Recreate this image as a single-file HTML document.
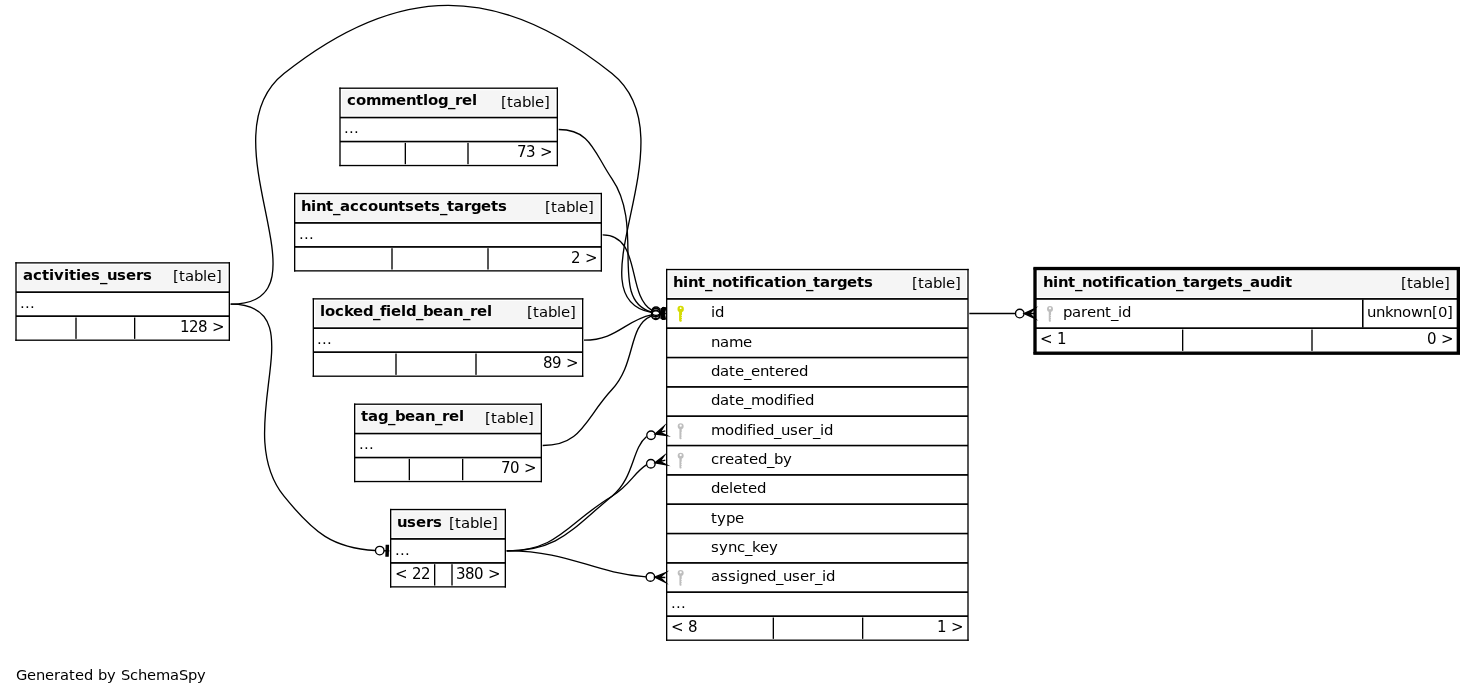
<!DOCTYPE html>
<html lang="en">
<head>
<meta charset="utf-8">
<title>hint_notification_targets_audit - Relationships</title>
<style>
html,body{margin:0;padding:0;background:#fff;}
body{width:1476px;height:695px;overflow:hidden;}
svg{display:block;}
svg text{font-family:'DejaVu Sans','Liberation Sans',sans-serif;font-size:14.9px;fill:#000;white-space:pre;}
svg text.n{font-size:15px;}
svg text.g{font-size:14.667px;}
</style>
</head>
<body>
<svg width="1476" height="695" viewBox="0 0 1476 695" style="will-change:transform">
<rect x="0" y="0" width="1476" height="695" fill="#ffffff"/>
<g fill="#000">
<rect x="16" y="262.867" width="213.333" height="77.333" fill="#fff"/>
<rect x="18" y="264.867" width="209.333" height="25.333" fill="#f5f5f5"/>
<text x="23 33 42 49 54 64 69 76 81 91 100 107 117 126 136 143" y="280 280 280 280 280 280 280 280 280 280 281 280 280 280 280 280" font-weight="bold">activities_users</text>
<text x="173 179 185 194 203 207 216" y="281">[table]</text>
<rect x="16" y="291" width="213.333" height="1" fill-opacity="0.716"/>
<rect x="16" y="292" width="213.333" height="1" fill-opacity="0.982"/>
<text x="20 25 30" y="308">...</text>
<rect x="16" y="315" width="213.333" height="1" fill-opacity="0.716"/>
<rect x="16" y="316" width="213.333" height="1" fill-opacity="0.982"/>
<rect x="75" y="317.533" width="1" height="21.334" fill-opacity="0.667"/>
<rect x="76" y="317.533" width="1" height="21.334" fill-opacity="0.667"/>
<rect x="134" y="317.533" width="1" height="21.334"/>
<rect x="135" y="317.533" width="1" height="21.334" fill-opacity="0.334"/>
<text x="180 189 198 207 212" y="332" class="n">128 &gt;</text>
<rect x="15.333" y="262" width="214.667" height="1" fill-opacity="0.800"/>
<rect x="15.333" y="263" width="214.667" height="1" fill-opacity="0.534"/>
<rect x="15.333" y="339" width="214.667" height="1" fill-opacity="0.467"/>
<rect x="15.333" y="340" width="214.667" height="1" fill-opacity="0.867"/>
<rect x="15" y="262.2" width="1" height="78.667" fill-opacity="0.667"/>
<rect x="16" y="262.2" width="1" height="78.667" fill-opacity="0.667"/>
<rect x="228" y="262.2" width="1" height="78.667" fill-opacity="0.334"/>
<rect x="229" y="262.2" width="1" height="78.667"/>
</g>
<g fill="#000">
<rect x="340" y="88.2" width="217.333" height="77.333" fill="#fff"/>
<rect x="342" y="90.2" width="213.333" height="25.333" fill="#f5f5f5"/>
<text x="347 356 366 381 396 406 416 423 428 438 448 455 462 472" y="105 105 105 105 105 105 105 105 105 105 106 105 105 105" font-weight="bold">commentlog_rel</text>
<text x="501 507 513 522 531 535 544" y="107">[table]</text>
<rect x="340" y="116" width="217.333" height="1" fill-opacity="0.249"/>
<rect x="340" y="117" width="217.333" height="1"/>
<rect x="340" y="118" width="217.333" height="1" fill-opacity="0.359"/>
<text x="344 349 354" y="133">...</text>
<rect x="340" y="140" width="217.333" height="1" fill-opacity="0.249"/>
<rect x="340" y="141" width="217.333" height="1"/>
<rect x="340" y="142" width="217.333" height="1" fill-opacity="0.359"/>
<rect x="404" y="142.867" width="1" height="21.333" fill-opacity="0.334"/>
<rect x="405" y="142.867" width="1" height="21.333"/>
<rect x="467" y="142.867" width="1" height="21.333" fill-opacity="0.667"/>
<rect x="468" y="142.867" width="1" height="21.333" fill-opacity="0.667"/>
<text x="517 526 535 540" y="157" class="n">73 &gt;</text>
<rect x="339.333" y="87" width="218.667" height="1" fill-opacity="0.467"/>
<rect x="339.333" y="88" width="218.667" height="1" fill-opacity="0.867"/>
<rect x="339.333" y="164" width="218.667" height="1" fill-opacity="0.134"/>
<rect x="339.333" y="165" width="218.667" height="1"/>
<rect x="339.333" y="166" width="218.667" height="1" fill-opacity="0.200"/>
<rect x="339" y="87.533" width="1" height="78.667" fill-opacity="0.667"/>
<rect x="340" y="87.533" width="1" height="78.667" fill-opacity="0.667"/>
<rect x="556" y="87.533" width="1" height="78.667" fill-opacity="0.334"/>
<rect x="557" y="87.533" width="1" height="78.667"/>
</g>
<g fill="#000">
<rect x="294.667" y="193.533" width="306.667" height="77.333" fill="#fff"/>
<rect x="296.667" y="195.533" width="302.667" height="25.333" fill="#f5f5f5"/>
<text x="301 311 316 326 333 340 350 359 368 378 388 398 405 414 424 431 440 447 454 464 471 481 491 498" y="211 211 211 211 212 211 211 211 211 211 211 211 211 211 211 211 212 211 211 211 211 211 211 211" font-weight="bold">hint_accountsets_targets</text>
<text x="545 551 557 566 575 579 588" y="212">[table]</text>
<rect x="294.667" y="222" width="306.666" height="1" fill-opacity="0.960"/>
<rect x="294.667" y="223" width="306.666" height="1" fill-opacity="0.783"/>
<text x="299 304 309" y="239">...</text>
<rect x="294.667" y="246" width="306.666" height="1" fill-opacity="0.960"/>
<rect x="294.667" y="247" width="306.666" height="1" fill-opacity="0.783"/>
<rect x="391" y="248.2" width="1" height="21.333" fill-opacity="0.667"/>
<rect x="392" y="248.2" width="1" height="21.333" fill-opacity="0.667"/>
<rect x="487" y="248.2" width="1" height="21.333" fill-opacity="0.667"/>
<rect x="488" y="248.2" width="1" height="21.333" fill-opacity="0.667"/>
<text x="571 580 585" y="263" class="n">2 &gt;</text>
<rect x="294" y="192" width="308" height="1" fill-opacity="0.134"/>
<rect x="294" y="193" width="308" height="1"/>
<rect x="294" y="194" width="308" height="1" fill-opacity="0.200"/>
<rect x="294" y="270" width="308" height="1" fill-opacity="0.800"/>
<rect x="294" y="271" width="308" height="1" fill-opacity="0.534"/>
<rect x="294" y="192.867" width="1" height="78.666"/>
<rect x="295" y="192.867" width="1" height="78.666" fill-opacity="0.334"/>
<rect x="600" y="192.867" width="1" height="78.666" fill-opacity="0.334"/>
<rect x="601" y="192.867" width="1" height="78.666"/>
</g>
<g fill="#000">
<rect x="313.333" y="298.867" width="269.333" height="77.333" fill="#fff"/>
<rect x="315.333" y="300.867" width="265.333" height="25.333" fill="#f5f5f5"/>
<text x="320 325 335 344 353 363 373 380 386 391 401 406 416 423 433 443 453 463 470 477 487" y="316 316 316 316 316 316 317 316 316 316 316 316 317 316 316 316 316 317 316 316 316" font-weight="bold">locked_field_bean_rel</text>
<text x="527 533 539 548 557 561 570" y="317">[table]</text>
<rect x="313.333" y="327" width="269.334" height="1" fill-opacity="0.716"/>
<rect x="313.333" y="328" width="269.334" height="1" fill-opacity="0.982"/>
<text x="317 322 327" y="344">...</text>
<rect x="313.333" y="351" width="269.334" height="1" fill-opacity="0.716"/>
<rect x="313.333" y="352" width="269.334" height="1" fill-opacity="0.982"/>
<rect x="395" y="353.533" width="1" height="21.334" fill-opacity="0.667"/>
<rect x="396" y="353.533" width="1" height="21.334" fill-opacity="0.667"/>
<rect x="475" y="353.533" width="1" height="21.334" fill-opacity="0.667"/>
<rect x="476" y="353.533" width="1" height="21.334" fill-opacity="0.667"/>
<text x="543 552 561 566" y="368" class="n">89 &gt;</text>
<rect x="312.667" y="298" width="270.666" height="1" fill-opacity="0.800"/>
<rect x="312.667" y="299" width="270.666" height="1" fill-opacity="0.534"/>
<rect x="312.667" y="375" width="270.666" height="1" fill-opacity="0.467"/>
<rect x="312.667" y="376" width="270.666" height="1" fill-opacity="0.867"/>
<rect x="312" y="298.2" width="1" height="78.667" fill-opacity="0.334"/>
<rect x="313" y="298.2" width="1" height="78.667"/>
<rect x="582" y="298.2" width="1" height="78.667"/>
<rect x="583" y="298.2" width="1" height="78.667" fill-opacity="0.334"/>
</g>
<g fill="#000">
<rect x="354.667" y="404.2" width="186.667" height="77.333" fill="#fff"/>
<rect x="356.667" y="406.2" width="182.667" height="25.333" fill="#f5f5f5"/>
<text x="361 368 378 388 395 405 415 425 435 442 449 459" y="421 421 421 422 421 421 421 421 422 421 421 421" font-weight="bold">tag_bean_rel</text>
<text x="485 491 497 506 515 519 528" y="423">[table]</text>
<rect x="354.667" y="432" width="186.666" height="1" fill-opacity="0.249"/>
<rect x="354.667" y="433" width="186.666" height="1"/>
<rect x="354.667" y="434" width="186.666" height="1" fill-opacity="0.359"/>
<text x="359 364 369" y="449">...</text>
<rect x="354.667" y="456" width="186.666" height="1" fill-opacity="0.249"/>
<rect x="354.667" y="457" width="186.666" height="1"/>
<rect x="354.667" y="458" width="186.666" height="1" fill-opacity="0.359"/>
<rect x="408" y="458.867" width="1" height="21.333" fill-opacity="0.334"/>
<rect x="409" y="458.867" width="1" height="21.333"/>
<rect x="462" y="458.867" width="1" height="21.333"/>
<rect x="463" y="458.867" width="1" height="21.333" fill-opacity="0.334"/>
<text x="501 510 519 524" y="473" class="n">70 &gt;</text>
<rect x="354" y="403" width="188" height="1" fill-opacity="0.467"/>
<rect x="354" y="404" width="188" height="1" fill-opacity="0.867"/>
<rect x="354" y="480" width="188" height="1" fill-opacity="0.134"/>
<rect x="354" y="481" width="188" height="1"/>
<rect x="354" y="482" width="188" height="1" fill-opacity="0.200"/>
<rect x="354" y="403.533" width="1" height="78.667"/>
<rect x="355" y="403.533" width="1" height="78.667" fill-opacity="0.334"/>
<rect x="540" y="403.533" width="1" height="78.667" fill-opacity="0.334"/>
<rect x="541" y="403.533" width="1" height="78.667"/>
</g>
<g fill="#000">
<rect x="390.667" y="509.533" width="114.667" height="77.333" fill="#fff"/>
<rect x="392.667" y="511.533" width="110.667" height="25.333" fill="#f5f5f5"/>
<text x="397 407 416 426 433" y="527" font-weight="bold">users</text>
<text x="449 455 461 470 479 483 492" y="528">[table]</text>
<rect x="390.667" y="538" width="114.666" height="1" fill-opacity="0.960"/>
<rect x="390.667" y="539" width="114.666" height="1" fill-opacity="0.783"/>
<text x="395 400 405" y="555">...</text>
<rect x="390.667" y="562" width="114.666" height="1" fill-opacity="0.960"/>
<rect x="390.667" y="563" width="114.666" height="1" fill-opacity="0.783"/>
<rect x="434" y="564.2" width="1" height="21.333"/>
<rect x="435" y="564.2" width="1" height="21.333" fill-opacity="0.334"/>
<rect x="451" y="564.2" width="1" height="21.333" fill-opacity="0.667"/>
<rect x="452" y="564.2" width="1" height="21.333" fill-opacity="0.667"/>
<text x="395 407 412 421" y="579" class="n">&lt; 22</text>
<text x="456 465 474 483 488" y="579" class="n">380 &gt;</text>
<rect x="390" y="508" width="116" height="1" fill-opacity="0.134"/>
<rect x="390" y="509" width="116" height="1"/>
<rect x="390" y="510" width="116" height="1" fill-opacity="0.200"/>
<rect x="390" y="586" width="116" height="1" fill-opacity="0.800"/>
<rect x="390" y="587" width="116" height="1" fill-opacity="0.534"/>
<rect x="390" y="508.867" width="1" height="78.666"/>
<rect x="391" y="508.867" width="1" height="78.666" fill-opacity="0.334"/>
<rect x="504" y="508.867" width="1" height="78.666" fill-opacity="0.334"/>
<rect x="505" y="508.867" width="1" height="78.666"/>
</g>
<g fill="#000">
<rect x="666.667" y="269.533" width="301.333" height="370.667" fill="#fff"/>
<rect x="668.667" y="271.533" width="297.333" height="25.333" fill="#f5f5f5"/>
<text x="673 683 688 698 705 712 722 732 739 744 750 755 764 774 781 786 796 806 813 820 830 837 847 857 864" y="287 287 287 287 288 287 287 287 287 287 287 287 287 287 287 287 287 288 287 287 287 287 287 287 287" font-weight="bold">hint_notification_targets</text>
<text x="912 918 924 933 942 946 955" y="288">[table]</text>
<rect x="666.667" y="298" width="301.333" height="1" fill-opacity="0.960"/>
<rect x="666.667" y="299" width="301.333" height="1" fill-opacity="0.783"/>
<g transform="translate(680.667 308.967)" fill="#d5dc05"><path fill-rule="evenodd" d="M0-3.2A3.2 3.2 0 1 1 0 3.2A3.2 3.2 0 1 1 0-3.2ZM0-1.65A.9 .9 0 1 0 0 .15A.9 .9 0 1 0 0-1.65Z"/><path d="M-1.6 2.4V11.3Q-1.5 12.7-.5 12.7H.4Q1.2 12.7 1.2 11.9V11.4L.7 11V10.4L1.35 10V9.3L.7 8.9V8.3L1.35 7.9V7.2L.7 6.8V6.2L1.35 5.8V2.4Z"/></g>
<text x="711 715" y="317">id</text>
<rect x="666.667" y="327" width="301.333" height="1" fill-opacity="0.716"/>
<rect x="666.667" y="328" width="301.333" height="1" fill-opacity="0.982"/>
<text x="711 720 729 743" y="347">name</text>
<rect x="666.667" y="356" width="301.333" height="1" fill-opacity="0.249"/>
<rect x="666.667" y="357" width="301.333" height="1"/>
<rect x="666.667" y="358" width="301.333" height="1" fill-opacity="0.359"/>
<text x="711 720 729 735 744 751 760 769 775 784 790 799" y="376 376 376 376 377 376 376 376 376 376 376 376">date_entered</text>
<rect x="666.667" y="386" width="301.333" height="1" fill-opacity="0.960"/>
<rect x="666.667" y="387" width="301.333" height="1" fill-opacity="0.783"/>
<text x="711 720 729 735 744 751 765 774 783 787 792 796 805" y="405 405 405 405 406 405 405 405 405 405 405 405 405">date_modified</text>
<rect x="666.667" y="415" width="301.333" height="1" fill-opacity="0.716"/>
<rect x="666.667" y="416" width="301.333" height="1" fill-opacity="0.982"/>
<g transform="translate(680.667 426.3)" fill="#bebebe"><path fill-rule="evenodd" d="M0-3A3 3 0 1 1 0 3A3 3 0 1 1 0-3ZM0-1.75A1.15 1.15 0 1 0 0 .55A1.15 1.15 0 1 0 0-1.75Z"/><path d="M-1.25 2.3V11.6Q-1.2 12.9-.3 12.9H.2Q.9 12.9 .9 12.1V11.5L.5 11.1V10.5L1.05 10.1V9.4L.5 9V8.4L1.05 8V7.3L.5 6.9V6.3L1.05 5.9V2.3Z"/></g>
<text x="711 725 734 743 747 752 756 765 774 781 790 798 807 813 820 824" y="435 435 435 435 435 435 435 435 436 435 435 435 435 436 435 435">modified_user_id</text>
<rect x="666.667" y="444" width="301.333" height="1" fill-opacity="0.249"/>
<rect x="666.667" y="445" width="301.333" height="1"/>
<rect x="666.667" y="446" width="301.333" height="1" fill-opacity="0.359"/>
<g transform="translate(680.667 455.633)" fill="#bebebe"><path fill-rule="evenodd" d="M0-3A3 3 0 1 1 0 3A3 3 0 1 1 0-3ZM0-1.75A1.15 1.15 0 1 0 0 .55A1.15 1.15 0 1 0 0-1.75Z"/><path d="M-1.25 2.3V11.6Q-1.2 12.9-.3 12.9H.2Q.9 12.9 .9 12.1V11.5L.5 11.1V10.5L1.05 10.1V9.4L.5 9V8.4L1.05 8V7.3L.5 6.9V6.3L1.05 5.9V2.3Z"/></g>
<text x="711 719 725 734 743 749 758 767 774 783" y="464 464 464 464 464 464 464 465 464 464">created_by</text>
<rect x="666.667" y="474" width="301.333" height="1" fill-opacity="0.960"/>
<rect x="666.667" y="475" width="301.333" height="1" fill-opacity="0.783"/>
<text x="711 720 729 733 742 748 757" y="493">deleted</text>
<rect x="666.667" y="503" width="301.333" height="1" fill-opacity="0.716"/>
<rect x="666.667" y="504" width="301.333" height="1" fill-opacity="0.982"/>
<text x="711 717 726 735" y="523">type</text>
<rect x="666.667" y="532" width="301.333" height="1" fill-opacity="0.249"/>
<rect x="666.667" y="533" width="301.333" height="1"/>
<rect x="666.667" y="534" width="301.333" height="1" fill-opacity="0.359"/>
<text x="711 719 728 737 745 752 760 769" y="552 552 552 552 553 552 552 552">sync_key</text>
<rect x="666.667" y="562" width="301.333" height="1" fill-opacity="0.960"/>
<rect x="666.667" y="563" width="301.333" height="1" fill-opacity="0.783"/>
<g transform="translate(680.667 572.967)" fill="#bebebe"><path fill-rule="evenodd" d="M0-3A3 3 0 1 1 0 3A3 3 0 1 1 0-3ZM0-1.75A1.15 1.15 0 1 0 0 .55A1.15 1.15 0 1 0 0-1.75Z"/><path d="M-1.25 2.3V11.6Q-1.2 12.9-.3 12.9H.2Q.9 12.9 .9 12.1V11.5L.5 11.1V10.5L1.05 10.1V9.4L.5 9V8.4L1.05 8V7.3L.5 6.9V6.3L1.05 5.9V2.3Z"/></g>
<text x="711 720 728 736 740 749 758 767 776 783 792 800 809 815 822 826" y="581 581 581 581 581 581 581 581 582 581 581 581 581 582 581 581">assigned_user_id</text>
<rect x="666.667" y="591" width="301.333" height="1" fill-opacity="0.716"/>
<rect x="666.667" y="592" width="301.333" height="1" fill-opacity="0.982"/>
<text x="671 676 681" y="608">...</text>
<rect x="666.667" y="615" width="301.333" height="1" fill-opacity="0.716"/>
<rect x="666.667" y="616" width="301.333" height="1" fill-opacity="0.982"/>
<rect x="772" y="617.533" width="1" height="21.334" fill-opacity="0.334"/>
<rect x="773" y="617.533" width="1" height="21.334"/>
<rect x="862" y="617.533" width="1" height="21.334"/>
<rect x="863" y="617.533" width="1" height="21.334" fill-opacity="0.334"/>
<text x="671 683 688" y="632" class="n">&lt; 8</text>
<text x="937 946 951" y="632" class="n">1 &gt;</text>
<rect x="666" y="268" width="302.667" height="1" fill-opacity="0.134"/>
<rect x="666" y="269" width="302.667" height="1"/>
<rect x="666" y="270" width="302.667" height="1" fill-opacity="0.200"/>
<rect x="666" y="639" width="302.667" height="1" fill-opacity="0.467"/>
<rect x="666" y="640" width="302.667" height="1" fill-opacity="0.867"/>
<rect x="666" y="268.867" width="1" height="372"/>
<rect x="667" y="268.867" width="1" height="372" fill-opacity="0.334"/>
<rect x="967" y="268.867" width="1" height="372" fill-opacity="0.667"/>
<rect x="968" y="268.867" width="1" height="372" fill-opacity="0.667"/>
</g>
<g fill="#000">
<rect x="1033.333" y="266.867" width="426.667" height="88" fill="#fff"/>
<rect x="1038" y="270.733" width="417.333" height="26.133" fill="#f5f5f5"/>
<text x="1043 1053 1058 1068 1075 1082 1092 1102 1109 1114 1120 1125 1134 1144 1151 1156 1166 1176 1183 1190 1200 1207 1217 1227 1234 1243 1250 1260 1270 1280 1285" y="287 287 287 287 288 287 287 287 287 287 287 287 287 287 287 287 287 288 287 287 287 287 287 287 287 288 287 287 287 287 287" font-weight="bold">hint_notification_targets_audit</text>
<text x="1401 1407 1413 1422 1431 1435 1444" y="288">[table]</text>
<rect x="1036" y="298" width="421.333" height="1" fill-opacity="0.960"/>
<rect x="1036" y="299" width="421.333" height="1" fill-opacity="0.783"/>
<g transform="translate(1050 308.967)" fill="#bebebe"><path fill-rule="evenodd" d="M0-3A3 3 0 1 1 0 3A3 3 0 1 1 0-3ZM0-1.75A1.15 1.15 0 1 0 0 .55A1.15 1.15 0 1 0 0-1.75Z"/><path d="M-1.25 2.3V11.6Q-1.2 12.9-.3 12.9H.2Q.9 12.9 .9 12.1V11.5L.5 11.1V10.5L1.05 10.1V9.4L.5 9V8.4L1.05 8V7.3L.5 6.9V6.3L1.05 5.9V2.3Z"/></g>
<text x="1063 1072 1081 1087 1096 1105 1111 1118 1122" y="317 317 317 317 317 317 318 317 317">parent_id</text>
<rect x="1362" y="299.533" width="1" height="28"/>
<rect x="1363" y="299.533" width="1" height="28" fill-opacity="0.556"/>
<text x="1367 1376 1385 1393 1402 1411 1423 1432 1438 1447" y="317">unknown[0]</text>
<rect x="1036" y="327" width="421.333" height="1" fill-opacity="0.716"/>
<rect x="1036" y="328" width="421.333" height="1" fill-opacity="0.982"/>
<rect x="1182" y="329.533" width="1" height="21.334"/>
<rect x="1183" y="329.533" width="1" height="21.334" fill-opacity="0.334"/>
<rect x="1311" y="329.533" width="1" height="21.334" fill-opacity="0.667"/>
<rect x="1312" y="329.533" width="1" height="21.334" fill-opacity="0.667"/>
<text x="1040 1052 1057" y="344" class="n">&lt; 1</text>
<text x="1427 1436 1441" y="344" class="n">0 &gt;</text>
<rect x="1035.333" y="268" width="422.667" height="1" fill-opacity="0.134"/>
<rect x="1035.333" y="269" width="422.667" height="1"/>
<rect x="1035.333" y="270" width="422.667" height="1" fill-opacity="0.200"/>
<rect x="1035.333" y="351" width="422.667" height="1" fill-opacity="0.467"/>
<rect x="1035.333" y="352" width="422.667" height="1" fill-opacity="0.867"/>
<rect x="1035" y="268.867" width="1" height="84" fill-opacity="0.667"/>
<rect x="1036" y="268.867" width="1" height="84" fill-opacity="0.667"/>
<rect x="1456" y="268.867" width="1" height="84" fill-opacity="0.334"/>
<rect x="1457" y="268.867" width="1" height="84"/>
<rect x="1033.333" y="266" width="426.667" height="1" fill-opacity="0.133"/>
<rect x="1033.333" y="267" width="426.667" height="1"/>
<rect x="1033.333" y="268" width="426.667" height="1"/>
<rect x="1033.333" y="269" width="426.667" height="1" fill-opacity="0.533"/>
<rect x="1033.333" y="352" width="426.667" height="1" fill-opacity="0.800"/>
<rect x="1033.333" y="353" width="426.667" height="1"/>
<rect x="1033.333" y="354" width="426.667" height="1" fill-opacity="0.866"/>
<rect x="1033" y="268.2" width="1" height="85.333" fill-opacity="0.666"/>
<rect x="1034" y="268.2" width="1" height="85.333"/>
<rect x="1035" y="268.2" width="1" height="85.333"/>
<rect x="1457" y="268.2" width="1" height="85.333" fill-opacity="0.666"/>
<rect x="1458" y="268.2" width="1" height="85.333"/>
<rect x="1459" y="268.2" width="1" height="85.333"/>
</g>
<g>
<path d="M646.04,576.83C590.85,572.57 570.67,550.87 506.67,550.87" fill="none" stroke="#000" stroke-width="1.333"/>
<polygon points="654.68,577.13 665.51,572.73 660.00,577.33 665.33,577.53 665.33,577.53 665.33,577.53 660.00,577.33 665.16,582.33 654.68,577.13 654.68,577.13" fill="#000" stroke="#000" stroke-width="1.333" stroke-miterlimit="10"/>
<circle cx="650.413" cy="576.987" r="4.267" fill="none" stroke="#000" stroke-width="1.333"/>
<path d="M646.39,464.87C634.59,471.97 629.45,485.77 612.00,496.20 567.19,523.00 558.88,550.87 506.67,550.87" fill="none" stroke="#000" stroke-width="1.333"/>
<polygon points="654.97,462.75 664.19,455.53 660.16,461.48 665.33,460.20 665.33,460.20 665.33,460.20 660.16,461.48 666.48,464.87 654.97,462.75 654.97,462.75" fill="#000" stroke="#000" stroke-width="1.333" stroke-miterlimit="10"/>
<circle cx="650.84" cy="463.773" r="4.267" fill="none" stroke="#000" stroke-width="1.333"/>
<path d="M646.57,436.59C631.65,448.80 634.45,477.85 612.00,496.20 571.56,529.24 558.88,550.87 506.67,550.87" fill="none" stroke="#000" stroke-width="1.333"/>
<polygon points="655.13,433.97 663.93,426.28 660.23,432.43 665.33,430.87 665.33,430.87 665.33,430.87 660.23,432.43 666.73,435.45 655.13,433.97 655.13,433.97" fill="#000" stroke="#000" stroke-width="1.333" stroke-miterlimit="10"/>
<circle cx="651.053" cy="435.227" r="4.267" fill="none" stroke="#000" stroke-width="1.333"/>
<path d="M651.07,312.33C569.31,297.01 693.07,138.57 612.00,73.53 498.29,-17.68 398.11,-17.20 284.00,73.53 201.64,139.03 335.89,304.20 230.67,304.20" fill="none" stroke="#000" stroke-width="1.333"/>
<polygon points="663.83,318.76 664.72,308.13 662.59,307.95 661.69,318.59 663.83,318.76" fill="#000" stroke="#000" stroke-width="1.333" stroke-miterlimit="10"/>
<polyline points="665.33,313.53 660.01,313.09" fill="none" stroke="#000" stroke-width="1.333"/>
<circle cx="655.773" cy="312.733" r="4.267" fill="none" stroke="#000" stroke-width="1.333"/>
<path d="M651.09,311.80C608.49,299.72 645.25,227.41 612.00,178.87 593.75,152.23 590.96,129.53 558.67,129.53" fill="none" stroke="#000" stroke-width="1.333"/>
<polygon points="663.63,318.69 664.92,308.11 662.80,307.85 661.51,318.44 663.63,318.69" fill="#000" stroke="#000" stroke-width="1.333" stroke-miterlimit="10"/>
<polyline points="665.33,313.53 660.04,312.89" fill="none" stroke="#000" stroke-width="1.333"/>
<circle cx="655.8" cy="312.373" r="4.267" fill="none" stroke="#000" stroke-width="1.333"/>
<path d="M651.64,310.15C626.20,295.09 641.77,234.87 602.67,234.87" fill="none" stroke="#000" stroke-width="1.333"/>
<polygon points="663.01,318.45 665.57,308.09 663.51,307.59 660.95,317.95 663.01,318.45" fill="#000" stroke="#000" stroke-width="1.333" stroke-miterlimit="10"/>
<polyline points="665.33,313.53 660.16,312.25" fill="none" stroke="#000" stroke-width="1.333"/>
<circle cx="656.013" cy="311.227" r="4.267" fill="none" stroke="#000" stroke-width="1.333"/>
<path d="M651.40,314.89C625.24,320.32 616.84,340.20 584.00,340.20" fill="none" stroke="#000" stroke-width="1.333"/>
<polygon points="664.79,318.95 663.76,308.33 661.63,308.53 662.67,319.15 664.79,318.95" fill="#000" stroke="#000" stroke-width="1.333" stroke-miterlimit="10"/>
<polyline points="665.33,313.53 660.03,314.05" fill="none" stroke="#000" stroke-width="1.333"/>
<circle cx="655.773" cy="314.467" r="4.267" fill="none" stroke="#000" stroke-width="1.333"/>
<path d="M651.04,316.08C627.72,326.12 636.21,363.63 612.00,389.53 584.95,418.47 582.28,445.53 542.67,445.53" fill="none" stroke="#000" stroke-width="1.333"/>
<polygon points="665.23,318.97 663.35,308.47 661.24,308.84 663.12,319.35 665.23,318.97" fill="#000" stroke="#000" stroke-width="1.333" stroke-miterlimit="10"/>
<polyline points="665.33,313.53 660.08,314.47" fill="none" stroke="#000" stroke-width="1.333"/>
<circle cx="655.88" cy="315.213" r="4.267" fill="none" stroke="#000" stroke-width="1.333"/>
<path d="M375.35,550.49C332.84,548.05 314.11,533.32 284.00,496.20 228.21,427.41 319.23,304.20 230.67,304.20" fill="none" stroke="#000" stroke-width="1.333"/>
<polygon points="388.12,556.17 388.41,545.51 386.28,545.45 385.99,556.11 388.12,556.17" fill="#000" stroke="#000" stroke-width="1.333" stroke-miterlimit="10"/>
<polyline points="389.33,550.87 384.00,550.72" fill="none" stroke="#000" stroke-width="1.333"/>
<circle cx="379.733" cy="550.613" r="4.267" fill="none" stroke="#000" stroke-width="1.333"/>
<path d="M1015.32,313.53C1000.24,313.53 990.65,313.53 969.33,313.53" fill="none" stroke="#000" stroke-width="1.333"/>
<polygon points="1024.00,313.53 1034.67,308.73 1029.33,313.53 1034.67,313.53 1034.67,313.53 1034.67,313.53 1029.33,313.53 1034.67,318.33 1024.00,313.53 1024.00,313.53" fill="#000" stroke="#000" stroke-width="1.333" stroke-miterlimit="10"/>
<circle cx="1019.733" cy="313.533" r="4.267" fill="none" stroke="#000" stroke-width="1.333"/>
</g>
<text x="16 27 36 45 54 60 69 75 84 93 98 107 116 121 130 138 147 156 170 179 188 197" y="680" class="g">Generated by SchemaSpy</text>
</svg>
</body>
</html>
